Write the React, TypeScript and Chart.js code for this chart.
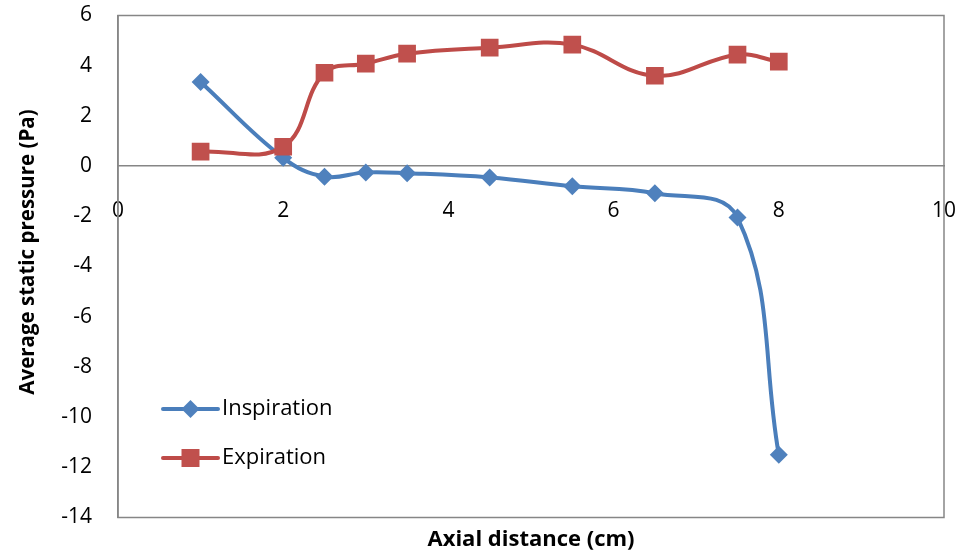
import React, { useEffect, useRef } from "react";
import { Chart, registerables } from "chart.js";

Chart.register(...registerables);

const xValues = [1, 2, 2.5, 3, 3.5, 4.5, 5.5, 6.5, 7.5, 8];
const inspiration = [3.35, 0.33, -0.42, -0.25, -0.28, -0.45, -0.8, -1.08, -2.05, -11.5];
const expiration = [0.58, 0.77, 3.72, 4.08, 4.48, 4.72, 4.84, 3.6, 4.44, 4.16];
const xTitle = "Axial distance (cm)";
const yTitle = "Average static pressure (Pa)";
const seriesNames = ["Inspiration", "Expiration"];

const BLUE_LINE = "#4A7EBB";
const BLUE_FILL = "#4F81BD";
const RED_LINE = "#BE4B48";
const RED_FILL = "#C0504D";
const FRAME = "#868686";
const FONT = "'Open Sans', Lato, sans-serif";

const framePlugin = {
  id: "frameAndText",
  afterDraw(chart: any) {
    const { ctx, chartArea } = chart;
    const { left, top, right, bottom } = chartArea;
    ctx.save();
    // frame
    ctx.strokeStyle = FRAME;
    ctx.lineWidth = 1.5;
    ctx.strokeRect(left, top, right - left, bottom - top);

    // titles
    ctx.fillStyle = "#000";
    ctx.textAlign = "center";
    ctx.textBaseline = "middle";
    ctx.font = `bold 22px ${FONT}`;
    ctx.fillText(xTitle, (left + right) / 2, 540);
    ctx.save();
    ctx.font = `bold 20.5px ${FONT}`;
    ctx.translate(28, 252);
    ctx.rotate(-Math.PI / 2);
    ctx.fillText(yTitle, 0, 0);
    ctx.restore();

    // legend
    const items = [
      { name: seriesNames[0], line: BLUE_LINE, fill: BLUE_FILL, shape: "diamond", y: 409 },
      { name: seriesNames[1], line: RED_LINE, fill: RED_FILL, shape: "square", y: 458 },
    ];
    const x0 = left + 45;
    const x1 = left + 100;
    items.forEach((it) => {
      ctx.strokeStyle = it.line;
      ctx.lineWidth = 4;
      ctx.lineCap = "round";
      ctx.beginPath();
      ctx.moveTo(x0, it.y);
      ctx.lineTo(x1, it.y);
      ctx.stroke();
      const cx = (x0 + x1) / 2;
      ctx.fillStyle = it.fill;
      ctx.beginPath();
      if (it.shape === "diamond") {
        const r = 9;
        ctx.moveTo(cx, it.y - r);
        ctx.lineTo(cx + r, it.y);
        ctx.lineTo(cx, it.y + r);
        ctx.lineTo(cx - r, it.y);
        ctx.closePath();
      } else {
        const h = 9;
        ctx.rect(cx - h, it.y - h, 2 * h, 2 * h);
      }
      ctx.fill();
      ctx.fillStyle = "#000";
      ctx.font = `22px ${FONT}`;
      ctx.textAlign = "left";
      ctx.textBaseline = "middle";
      ctx.fillText(it.name, x1 + 4, it.y);
    });
    ctx.restore();
  },
};

export default function App() {
  const canvasRef = useRef<HTMLCanvasElement | null>(null);

  useEffect(() => {
    if (!canvasRef.current) return;
    const chart = new Chart(canvasRef.current, {
      type: "line",
      data: {
        datasets: [
          {
            label: seriesNames[0],
            data: xValues.map((x, i) => ({ x, y: inspiration[i] })),
            borderColor: BLUE_LINE,
            backgroundColor: BLUE_FILL,
            borderWidth: 4,
            pointStyle: "rectRot",
            pointRadius: 9,
            pointBorderWidth: 0,
            tension: 0.4,
            order: 1,
          },
          {
            label: seriesNames[1],
            data: xValues.map((x, i) => ({ x, y: expiration[i] })),
            borderColor: RED_LINE,
            backgroundColor: RED_FILL,
            borderWidth: 4,
            pointStyle: "rect",
            pointRadius: 12.5,
            pointBorderWidth: 0,
            tension: 0.4,
            order: 0,
          },
        ],
      },
      options: {
        animation: false,
        responsive: true,
        maintainAspectRatio: false,
        layout: { padding: { left: 0, top: 15.5, right: 18, bottom: 38.5 } },
        plugins: {
          legend: { display: false },
          tooltip: { enabled: false },
          title: { display: false },
        },
        scales: {
          x: {
            type: "linear",
            position: { y: 0 } as any,
            min: 0,
            max: 10,
            ticks: {
              stepSize: 2,
              color: "#000",
              font: { family: FONT, size: 21 },
              padding: 0,
            },
            grid: {
              display: true,
              drawOnChartArea: false,
              drawTicks: true,
              tickLength: 32,
              tickColor: "rgba(0,0,0,0)",
              color: "rgba(0,0,0,0)",
            },
            border: { display: true, color: FRAME, width: 1.5 },
            afterFit(scale: any) {
              scale.height = 0;
            },
          },
          y: {
            type: "linear",
            position: "left",
            min: -14,
            max: 6,
            ticks: {
              stepSize: 2,
              color: "#000",
              font: { family: FONT, size: 21 },
              padding: 0,
            },
            grid: {
              display: true,
              drawOnChartArea: false,
              drawTicks: true,
              tickLength: 26,
              tickColor: "rgba(0,0,0,0)",
              color: "rgba(0,0,0,0)",
            },
            border: { display: true, color: FRAME, width: 1.5 },
            afterFit(scale: any) {
              scale.width = 118;
            },
          },
        },
      },
      plugins: [framePlugin],
    });
    return () => chart.destroy();
  }, []);

  return (
    <div style={{ position: "absolute", left: 0, top: 0, width: 962, height: 556, background: "#fff" }}>
      <canvas ref={canvasRef} />
    </div>
  );
}
